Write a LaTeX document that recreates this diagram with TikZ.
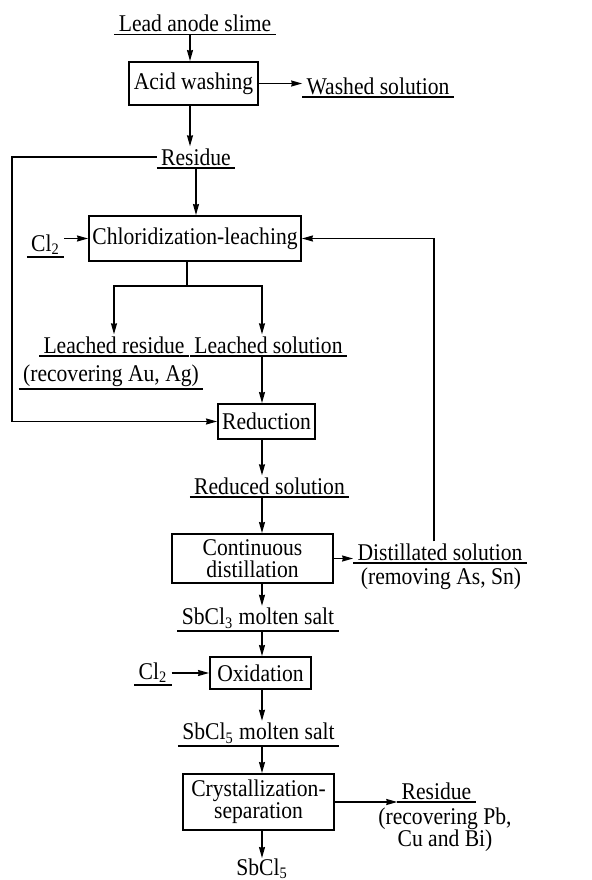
\documentclass[tikz,border=0pt]{standalone}
\usepackage{fontspec}
\setmainfont{Liberation Serif}[FakeStretch=0.9]
\usetikzlibrary{arrows.meta}

\tikzset{
  proc/.style={draw, line width=0.95pt, inner sep=0pt, align=center},
  stream/.style={anchor=south, inner xsep=2pt, inner ysep=1pt},
  note/.style={anchor=north, inner sep=0pt, align=center},
  flow/.style={line width=0.7pt, -{Stealth[length=5.5pt,width=3pt,inset=0.4pt]}},
}

\begin{document}
\begin{tikzpicture}[x=0.5pt, y=-0.5pt, font=\fontsize{12}{11}\selectfont]
  \useasboundingbox (0,0) rectangle (591,880);
  \coordinate (col) at (190,0);
  \coordinate (trunk) at (262,0);
  \coordinate (lrail) at (12,0);
  \coordinate (rrail) at (434,0);
  \coordinate (split) at (187,286);

  % process boxes
  \node[proc, minimum width=64.5pt, minimum height=21.5pt] (wash) at (193.5,83.5) {Acid washing};
  \node[proc, minimum width=106pt, minimum height=22.5pt] (chlor) at (195,238.5) {Chloridization-leaching};
  \node[proc, minimum width=48.5pt, minimum height=17.5pt] (reduc) at (266.5,421.5) {Reduction};
  \node[proc, minimum width=80.5pt, minimum height=24.5pt] (distil) at (252.5,558.5) {Continuous\\distillation};
  \node[proc, minimum width=50.5pt, minimum height=16pt] (oxid) at (260.5,673) {Oxidation};
  \node[proc, minimum width=75.5pt, minimum height=28pt] (cryst) at (258.5,802) {Crystallization-\\separation};

  % streams (underlined)
  \node[stream] (slime) at (195,34.5) {Lead anode slime};
  \node[stream] (washed) at (378,97) {Washed solution};
  \node[stream] (res1) at (196,168) {Residue};
  \node[stream] (cl2a) at (45.5,257) {Cl\textsubscript{2}};
  \node[stream] (lres) at (114,356) {Leached residue};
  \node[stream] (lresnote) at (111,389) {(recovering Au, Ag)};
  \node[stream] (lsol) at (268.5,356) {Leached solution};
  \node[stream] (redsol) at (269.5,497) {Reduced solution};
  \node[stream] (distsol) at (440,563) {Distillated solution};
  \node[stream] (sbcl3) at (258,631) {SbCl\textsubscript{3} molten salt};
  \node[stream] (cl2b) at (153,685) {Cl\textsubscript{2}};
  \node[stream] (sbcl5m) at (258.5,746) {SbCl\textsubscript{5} molten salt};
  \node[stream] (res2) at (436.5,802) {Residue};
  \foreach \n in {slime,washed,res1,cl2a,lres,lresnote,lsol,redsol,distsol,sbcl3,cl2b,sbcl5m,res2}
    \draw[line width=0.7pt] (\n.south west) -- (\n.south east);

  % plain notes
  \node[note] (distnote) at (441,567) {(removing As, Sn)};
  \node[note] (res2note) at (445,807) {(recovering Pb,\\Cu and Bi)};
  \node[note] (sbcl5) at (262,858) {SbCl\textsubscript{5}};

  % connectors
  \draw[flow] (col |- slime.south) -- (col |- wash.north);
  \draw[flow] (wash.east) -- (wash.east -| washed.west);
  \draw[flow] (col |- wash.south) -- (col |- res1.north);
  \draw[flow] (res1.south) -- (res1.south |- chlor.north);
  \draw[flow] (res1.west) -- (res1.west -| lrail) |- (reduc.west);
  \draw[flow] (cl2a.east |- chlor.west) -- (chlor.west);
  \draw[line width=0.7pt] (chlor.south -| split) -- (split);
  \draw[flow] (split) -| (lres.north);
  \draw[flow] (split) -| (trunk |- lsol.north);
  \draw[flow] (trunk |- lsol.south) -- (trunk |- reduc.north);
  \draw[flow] (trunk |- reduc.south) -- (trunk |- redsol.north);
  \draw[flow] (trunk |- redsol.south) -- (trunk |- distil.north);
  \draw[flow] (distil.east) -- (distil.east -| distsol.west);
  \draw[flow] (rrail |- distsol.north) -- (rrail |- chlor.east) -- (chlor.east);
  \draw[flow] (trunk |- distil.south) -- (trunk |- sbcl3.north);
  \draw[flow] (trunk |- sbcl3.south) -- (trunk |- oxid.north);
  \draw[flow] (cl2b.east |- oxid.west) -- (oxid.west);
  \draw[flow] (trunk |- oxid.south) -- (trunk |- sbcl5m.north);
  \draw[flow] (trunk |- sbcl5m.south) -- (trunk |- cryst.north);
  \draw[flow] (cryst.east) -- (cryst.east -| res2.west);
  \draw[flow] (trunk |- cryst.south) -- (sbcl5.north);
\end{tikzpicture}
\end{document}
